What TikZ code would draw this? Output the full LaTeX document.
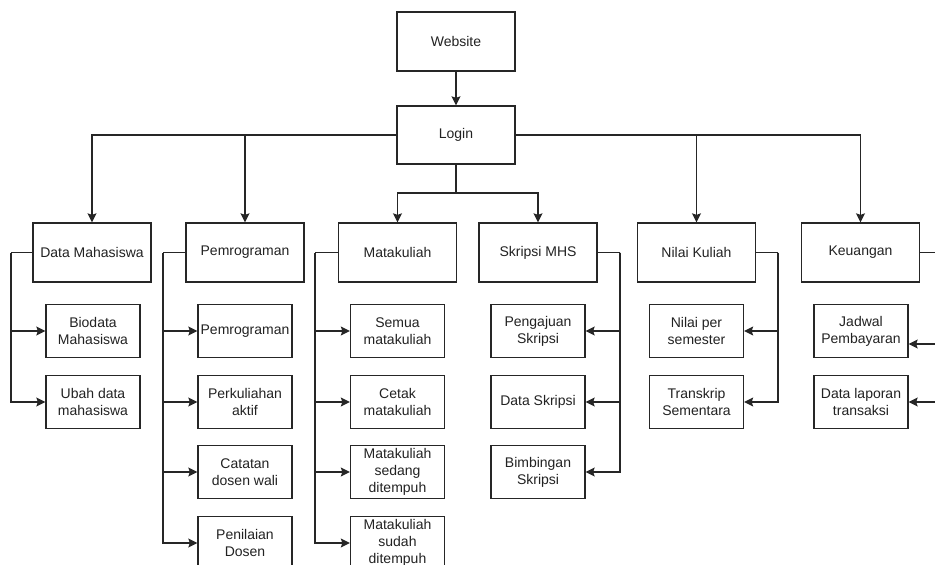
\documentclass[tikz,border=0pt]{standalone}
\usepackage{fontspec}
\setmainfont{Liberation Sans}
\usetikzlibrary{arrows.meta}
\definecolor{ln}{HTML}{262626}
\definecolor{tx}{HTML}{222222}
\tikzset{
  box/.style={draw=ln, line width=1.3pt, fill=white, text=tx, align=center, inner sep=1pt,
    font=\fontsize{14}{17}\selectfont},
  topbox/.style={box, minimum width=118pt, minimum height=59pt},
  midbox/.style={box, minimum width=118pt, minimum height=59pt},
  subbox/.style={box, minimum width=94pt, minimum height=53pt},
  conn/.style={draw=ln, line width=1.3pt},
  arr/.style={conn, -{Stealth[length=9pt,width=9pt,inset=1.5pt]}}
}
\begin{document}
\begin{tikzpicture}[x=1pt,y=-1pt]
\useasboundingbox (0,0) rectangle (935,565);
\fill[white] (0,0) rectangle (935,565);
\clip (0,0) rectangle (935,565);

% top
\node[topbox] (web) at (456,41.5) {Website};
\node[topbox, minimum height=58pt] (login) at (456,135) {Login};

% level 2
\node[midbox] (dm)  at (92,252.5)  {Data Mahasiswa};
\node[midbox] (pem) at (245,252.5) {Pemrograman};
\node[midbox] (mk)  at (397.5,252.5) {Matakuliah};
\node[midbox] (sk)  at (538,252.5) {Skripsi MHS};
\node[midbox] (nk)  at (696.5,252.5) {Nilai Kuliah};
\node[midbox] (ke)  at (860.5,252.5) {Keuangan};

% children
\node[subbox] (bd) at (93,331) {Biodata\\Mahasiswa};
\node[subbox] (ub) at (93,402) {Ubah data\\mahasiswa};

\node[subbox] (p1) at (245,331) {Pemrograman};
\node[subbox] (p2) at (245,402) {Perkuliahan\\aktif};
\node[subbox] (p3) at (245,472) {Catatan\\dosen wali};
\node[subbox] (p4) at (245,543) {Penilaian\\Dosen};

\node[subbox] (m1) at (397.5,331) {Semua\\matakuliah};
\node[subbox] (m2) at (397.5,402) {Cetak\\matakuliah};
\node[subbox] (m3) at (397.5,472) {Matakuliah\\sedang\\ditempuh};
\node[subbox] (m4) at (397.5,543) {Matakuliah\\sudah\\ditempuh};

\node[subbox] (s1) at (538,331) {Pengajuan\\Skripsi};
\node[subbox] (s2) at (538,402) {Data Skripsi};
\node[subbox] (s3) at (538,472) {Bimbingan\\Skripsi};

\node[subbox] (n1) at (696.5,331) {Nilai per\\semester};
\node[subbox] (n2) at (696.5,402) {Transkrip\\Sementara};

\node[subbox] (k1) at (861,331) {Jadwal\\Pembayaran};
\node[subbox] (k2) at (861,402) {Data laporan\\transaksi};

% trunk coordinates
\coordinate (dmt) at (11,252.5);
\coordinate (pemt) at (163,252.5);
\coordinate (mkt) at (315,252.5);
\coordinate (skt) at (620,252.5);
\coordinate (nkt) at (778,252.5);
\coordinate (ket) at (948,252.5);
\coordinate (lb) at (456,193);

% top connectors
\draw[arr] (web) -- (login);
\draw[arr] (login.west) -| (dm.north);
\draw[arr] (login.west) -| (pem.north);
\draw[arr] (login.east) -| (nk.north);
\draw[arr] (login.east) -| (ke.north);
\draw[conn] (login.south) -- (lb);
\draw[arr] (lb) -| (mk.north);
\draw[arr] (lb) -| (sk.north);

% data mahasiswa
\draw[conn] (dm.west) -- (dmt);
\draw[arr] (dmt) |- (bd.west);
\draw[arr] (dmt) |- (ub.west);

% pemrograman
\draw[conn] (pem.west) -- (pemt);
\draw[arr] (pemt) |- (p1.west);
\draw[arr] (pemt) |- (p2.west);
\draw[arr] (pemt) |- (p3.west);
\draw[arr] (pemt) |- (p4.west);

% matakuliah
\draw[conn] (mk.west) -- (mkt);
\draw[arr] (mkt) |- (m1.west);
\draw[arr] (mkt) |- (m2.west);
\draw[arr] (mkt) |- (m3.west);
\draw[arr] (mkt) |- (m4.west);

% skripsi
\draw[conn] (sk.east) -- (skt);
\draw[arr] (skt) |- (s1.east);
\draw[arr] (skt) |- (s2.east);
\draw[arr] (skt) |- (s3.east);

% nilai
\draw[conn] (nk.east) -- (nkt);
\draw[arr] (nkt) |- (n1.east);
\draw[arr] (nkt) |- (n2.east);

% keuangan
\draw[conn] (ke.east) -- (ket);
\draw[arr] (ket) |- ([yshift=-13pt]k1.east);
\draw[arr] (ket) |- (k2.east);
\end{tikzpicture}
\end{document}
